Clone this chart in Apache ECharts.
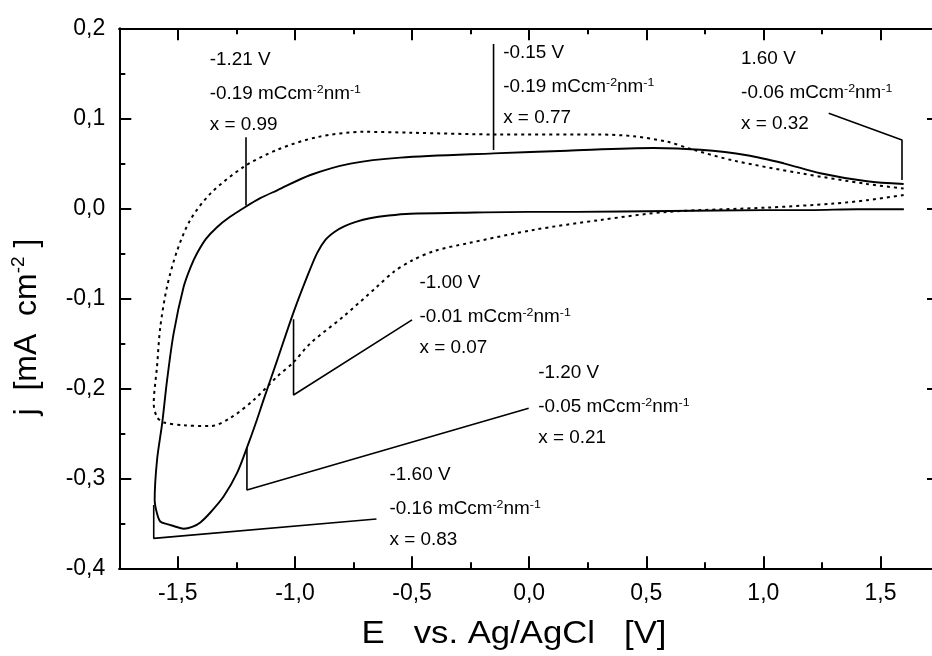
<!DOCTYPE html>
<html><head><meta charset="utf-8">
<script src="https://cdn.jsdelivr.net/npm/echarts@6/dist/echarts.min.js"></script>
<style>html,body{margin:0;padding:0;overflow:hidden;background:#fff;width:932px;height:656px}#c{position:absolute;left:0;top:0;width:960px;height:656px}</style>
</head><body><div id="c"></div><script>
// ---- data ----
const solidE = [1.60,1.40,1.20,1.00,0.60,0.20,0.00,-0.30,-0.507,-0.60,-0.68,-0.74,-0.79,-0.83,-0.87,-0.906,-0.948,-1.008,-1.076,-1.133,-1.169,-1.205,-1.247,-1.304,-1.361,-1.404,-1.439,-1.475,-1.518,-1.546,-1.575,-1.589,-1.599,
  -1.589,-1.567,-1.546,-1.518,-1.475,-1.445,-1.418,-1.38,-1.333,-1.28,-1.212,-1.15,-1.076,-0.934,-0.763,-0.55,-0.151,0.162,0.532,0.731,0.930,1.087,1.243,1.443,1.599];
const solidJ = [-0.001,-0.001,-0.002,-0.002,-0.003,-0.004,-0.004,-0.005,-0.006,-0.008,-0.011,-0.015,-0.020,-0.026,-0.035,-0.050,-0.076,-0.117,-0.169,-0.212,-0.240,-0.266,-0.294,-0.320,-0.338,-0.349,-0.354,-0.356,-0.353,-0.351,-0.348,-0.339,-0.324,
  -0.280,-0.239,-0.191,-0.139,-0.087,-0.065,-0.050,-0.034,-0.021,-0.010,0.0015,0.011,0.020,0.037,0.0497,0.0563,0.061,0.064,0.067,0.065,0.059,0.050,0.039,0.030,0.027];
const dottedE = [1.599,1.443,1.30,1.016,0.589,0.304,0.019,-0.265,-0.40,-0.50,-0.58,-0.649,-0.792,-0.934,-1.006,-1.076,-1.176,-1.276,-1.361,-1.475,-1.560,-1.589,-1.603,
  -1.589,-1.575,-1.546,-1.503,-1.447,-1.361,-1.219,-1.076,-0.906,-0.707,-0.507,-0.123,0.304,0.446,0.589,0.702,0.873,1.158,1.443,1.599];
const dottedJ = [0.0148,0.009,0.0052,0.0008,-0.004,-0.013,-0.024,-0.039,-0.047,-0.058,-0.071,-0.087,-0.120,-0.150,-0.171,-0.187,-0.213,-0.233,-0.242,-0.241,-0.238,-0.232,-0.217,
  -0.176,-0.132,-0.087,-0.047,-0.013,0.0163,0.046,0.065,0.079,0.085,0.084,0.082,0.082,0.080,0.074,0.065,0.053,0.039,0.027,0.022];
const xMajorTicks = [-1.5,-1.0,-0.5,0.0,0.5,1.0,1.5];
const xMinorTicks = [-1.75,-1.25,-0.75,-0.25,0.25,0.75,1.25,1.75];
const yTicks = [-0.4,-0.3,-0.2,-0.1,0.0,0.1,0.2];
const annVolt = ['-1.21 V','-0.15 V','1.60 V','-1.00 V','-1.20 V','-1.60 V'];
const annCharge = ['-0.19','-0.19','-0.06','-0.01','-0.05','-0.16'];
const annX = ['x = 0.99','x = 0.77','x = 0.32','x = 0.07','x = 0.21','x = 0.83'];
// callout leader lines, in data units (E, j)
const calloutE = [[-1.209,-1.209],[-0.152,-0.152],[1.279,1.592,1.592],[-0.50,-1.006,-1.006],[-0.002,-1.205,-1.205],[-0.652,-1.603,-1.603]];
const calloutJ = [[0.079,0.003],[0.1826,0.0648],[0.1056,0.0759,0.0314],[-0.124,-0.2074,-0.1233],[-0.2222,-0.313,-0.2667],[-0.3452,-0.3667,-0.3297]];
// text anchors (left edge, centre of first line), data units
const annAnchorE = [-1.364,-0.111,0.905,-0.468,0.039,-0.596];
const annAnchorJ = [0.1648,0.1726,0.1659,-0.083,-0.183,-0.2963];

// ---- chart ----
const FONT = "'Liberation Sans', Arial, sans-serif";
const fmt = v => v.toFixed(1).replace('.', ',');
const chart = echarts.init(document.getElementById('c'), null, {renderer:'canvas'});
const axLine = {show:true, onZero:false, lineStyle:{color:'#000', width:2}};
function xAx(grid, pos, major, labels){
  return {type:'value', gridIndex:grid, min:-1.75, max:1.75, position:pos,
    axisLine: axLine,
    axisTick:{show:true, inside:true, length: major?12:6, lineStyle:{color:'#000', width:2}, customValues: major?xMajorTicks:xMinorTicks},
    axisLabel: labels ? {show:true, customValues:xMajorTicks, formatter:fmt, fontSize:23, color:'#000', fontFamily:FONT, margin:14} : {show:false},
    splitLine:{show:false}};
}
function yAx(grid, pos, labels, show){
  return {type:'value', gridIndex:grid, show:show, min:-0.4, max:0.2, interval:0.1, position:pos,
    axisLine: axLine,
    axisTick:{show:true, inside:true, length:12, lineStyle:{color:'#000', width:2}},
    minorTick:{show:true, splitNumber:2, length:6, lineStyle:{color:'#000', width:2}},
    axisLabel: labels ? {show:true, formatter:fmt, fontSize:23, color:'#000', fontFamily:FONT, margin:14} : {show:false},
    splitLine:{show:false}, minorSplitLine:{show:false}};
}
const series = [
  {type:'line', xAxisIndex:0, yAxisIndex:0, data: solidE.map((e,i)=>[e, solidJ[i]]), showSymbol:false, smooth:0.3,
   lineStyle:{color:'#000', width:1.9}, silent:true},
  {type:'line', xAxisIndex:0, yAxisIndex:0, data: dottedE.map((e,i)=>[e, dottedJ[i]]), showSymbol:false, smooth:0.3,
   lineStyle:{color:'#000', width:2, type:[3,4]}, silent:true}
];
calloutE.forEach((es,k)=>{
  series.push({type:'line', xAxisIndex:0, yAxisIndex:0, data: es.map((e,i)=>[e, calloutJ[k][i]]), showSymbol:false,
    lineStyle:{color:'#000', width:1.6}, silent:true});
});
const gridRect = {left:119.3, top:28.3, width:819.7, height:540, containLabel:false};
chart.setOption({
  animation:false,
  backgroundColor:'#fff',
  grid:[Object.assign({}, gridRect), Object.assign({}, gridRect)],
  xAxis:[xAx(0,'bottom',true,true), xAx(0,'top',true,false), xAx(1,'bottom',false,false), xAx(1,'top',false,false)],
  yAxis:[yAx(0,'left',true,true), yAx(0,'right',false,true), yAx(1,'left',false,false)],
  series: series
});

const SX = 1.08;
const richA = {fontSize:17.5, fontFamily:FONT, fill:'#000', color:'#000', lineHeight:20};
const richS = {fontSize:11.5, fontFamily:FONT, fill:'#000', color:'#000', verticalAlign:'top', lineHeight:20};
const graphics = [];
annVolt.forEach((v,k)=>{
  const p = chart.convertToPixel({xAxisIndex:0, yAxisIndex:0}, [annAnchorE[k], annAnchorJ[k]]);
  graphics.push({type:'text', x:p[0], y:p[1], scaleX:SX, silent:true, style:{text:v, font:'17.5px '+FONT, fill:'#000', textAlign:'left', textVerticalAlign:'middle', align:'left', verticalAlign:'middle'}});
  graphics.push({type:'text', x:p[0], y:p[1]+34, scaleX:SX, silent:true, style:{text:'{a|'+annCharge[k]+' mCcm}{s|-2}{a|nm}{s|-1}', rich:{a:richA, s:richS}, fill:'#000', textAlign:'left', textVerticalAlign:'middle', align:'left', verticalAlign:'middle'}});
  graphics.push({type:'text', x:p[0], y:p[1]+65, scaleX:SX, silent:true, style:{text:annX[k], font:'17.5px '+FONT, fill:'#000', textAlign:'left', textVerticalAlign:'middle', align:'left', verticalAlign:'middle'}});
});
graphics.push({type:'text', x:514, y:634, scaleX:1.12, silent:true, style:{text:'E   vs. Ag/AgCl   [V]', font:'31px '+FONT, fill:'#000', textAlign:'center', textVerticalAlign:'middle', align:'center', verticalAlign:'middle'}});
graphics.push({type:'text', x:27.5, y:327, rotation:Math.PI/2, silent:true, style:{text:'{t|j  [mA  cm}{u|-2}{t| ]}', rich:{t:{fontSize:32, fontFamily:FONT, fill:'#000', lineHeight:36}, u:{fontSize:19, fontFamily:FONT, fill:'#000', verticalAlign:'top', lineHeight:36}}, textAlign:'center', textVerticalAlign:'middle', align:'center', verticalAlign:'middle'}});
chart.setOption({graphic:{elements:graphics}});
</script></body></html>
